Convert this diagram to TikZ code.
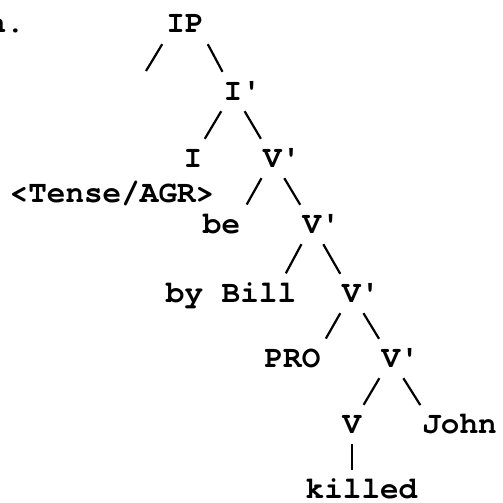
\documentclass[tikz,border=0pt]{standalone}
\usepackage{fontspec}
\setmonofont{TeX Gyre Cursor}

\begin{document}
\begin{tikzpicture}[
    x=1pt, y=-1pt,
    cat/.style={anchor=base, inner xsep=4pt, inner ysep=11pt, text height=17pt, text depth=0pt, font=\ttfamily\bfseries\fontsize{31}{31}\selectfont},
    branch/.style={line width=2.2pt},
    leaf/.style={branch, shorten >=22.9pt}
]
    \useasboundingbox (0,0) rectangle (503,503);

    % Tree labels
    \node (ex) [cat, anchor=base east] at (29,33) {a.};
    \node (ip) [cat] at (185,33) {IP};
    \node (ibar) [cat] at (233,100) {I\rlap{'}};
    \node (i) [cat] at (193,167) {I};
    \node (tense) [cat] at (112,202) {<Tense/AGR>};
    \node (vbara) [cat] at (272.5,167) {V\rlap{'}};
    \node (be) [cat] at (221.5,233) {be};
    \node (vbarb) [cat] at (312,233) {V\rlap{'}};
    \node (bybill) [cat] at (231,302) {by Bill};
    \node (vbarc) [cat] at (351.5,302) {V\rlap{'}};
    \node (pro) [cat] at (292.5,367) {PRO};
    \node (vbard) [cat] at (391,367) {V\rlap{'}};
    \node (v) [cat] at (352,433) {V};
    \node (john) [cat] at (459.5,433) {John};
    \node (killed) [cat] at (361.5,498) {killed};
    \coordinate (spec) at (146,71);

    % Branches
    \draw [branch] (ip.south west) -- (spec);
    \draw [branch] (ip.south east) -- (ibar);
    \draw [branch] (ibar) -- (i);
    \draw [branch] (ibar) -- (vbara);
    \draw [leaf] (vbara) -- ([xshift=14pt]be.center);
    \draw [branch] (vbara) -- (vbarb);
    \draw [leaf] (vbarb) -- ([xshift=44pt]bybill.center);
    \draw [branch] (vbarb) -- (vbarc);
    \draw [leaf] (vbarc) -- ([xshift=22pt]pro.center);
    \draw [branch] (vbarc) -- (vbard);
    \draw [branch] (vbard) -- (v);
    \draw [leaf] (vbard) -- ([xshift=-27pt]john.center);
    \draw [branch, shorten >=20pt] (v) -- ([xshift=-9.5pt]killed.center);
\end{tikzpicture}
\end{document}
